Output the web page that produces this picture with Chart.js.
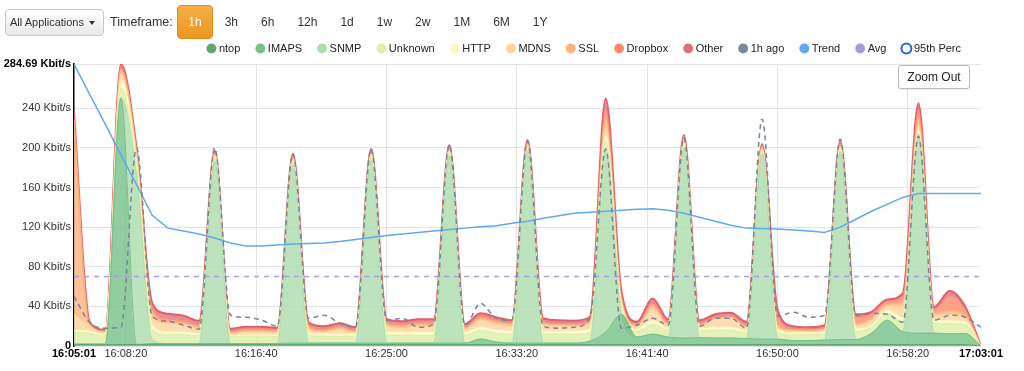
<!DOCTYPE html>
<html>
<head>
<meta charset="utf-8">
<title>Traffic</title>
<script src="https://cdn.jsdelivr.net/npm/chart.js@4.4.1/dist/chart.umd.min.js"></script>
<style>
  html, body { margin: 0; padding: 0; background: #fff; }
  body { width: 1024px; height: 371px; overflow: hidden; font-family: "Liberation Sans", Arial, sans-serif; color: #333; }
  #wrap { position: relative; width: 1024px; height: 371px; }
  #wrap canvas { position: absolute; left: 0; top: 0; }

  .toolbar { position: absolute; left: 5px; top: 6px; height: 32px; display: flex; align-items: center; z-index: 2; }
  .app-btn {
    height: 25px; line-height: 25px; padding: 0 8px 0 4px; font-size: 11px; color: #333;
    border: 1px solid #c8c8c8; border-radius: 4px;
    background: linear-gradient(#ffffff, #e8e8e8);
  }
  .caret { display: inline-block; width: 0; height: 0; margin-left: 2px; vertical-align: middle;
    border-top: 4px solid #333; border-left: 3px solid transparent; border-right: 3px solid transparent; }
  .tf-label { font-size: 12.5px; margin: 0 4px 0 6px; color: #333; }
  .tf-btn { height: 32px; line-height: 32px; padding: 0 10.5px; font-size: 12px; color: #333; border: 1px solid transparent; border-radius: 4px; }
  .tf-btn.active { color: #fff; background: linear-gradient(#f4b04a, #ec961f); border-color: #df8d1d; }

  .zoom-btn {
    position: absolute; left: 898px; top: 65px; width: 70px; height: 22px; line-height: 22px;
    text-align: center; font-size: 12px; color: #222; background: #fff;
    border: 1px solid #bbb; border-radius: 3px; box-shadow: 0 1px 1px rgba(0,0,0,0.08); z-index: 2;
  }
</style>
</head>
<body>
<div id="wrap">
  <canvas id="trafficChart"></canvas>
  <div class="toolbar">
    <div class="app-btn">All Applications <span class="caret"></span></div>
    <span class="tf-label">Timeframe:</span>
    <div class="tf-btn active">1h</div>
    <div class="tf-btn">3h</div>
    <div class="tf-btn">6h</div>
    <div class="tf-btn">12h</div>
    <div class="tf-btn">1d</div>
    <div class="tf-btn">1w</div>
    <div class="tf-btn">2w</div>
    <div class="tf-btn">1M</div>
    <div class="tf-btn">6M</div>
    <div class="tf-btn">1Y</div>
  </div>
  <div class="zoom-btn">Zoom Out</div>
</div>

<script>
// ---- Data (Kbit/s, one sample per minute) ----
const times = [
  "16:05:01", "16:06:01", "16:07:01", "16:08:01", "16:09:01", "16:10:01", "16:11:01", "16:12:01", "16:13:01", "16:14:01",
  "16:15:01", "16:16:01", "16:17:01", "16:18:01", "16:19:01", "16:20:01", "16:21:01", "16:22:01", "16:23:01", "16:24:01",
  "16:25:01", "16:26:01", "16:27:01", "16:28:01", "16:29:01", "16:30:01", "16:31:01", "16:32:01", "16:33:01", "16:34:01",
  "16:35:01", "16:36:01", "16:37:01", "16:38:01", "16:39:01", "16:40:01", "16:41:01", "16:42:01", "16:43:01", "16:44:01",
  "16:45:01", "16:46:01", "16:47:01", "16:48:01", "16:49:01", "16:50:01", "16:51:01", "16:52:01", "16:53:01", "16:54:01",
  "16:55:01", "16:56:01", "16:57:01", "16:58:01", "16:59:01", "17:00:01", "17:01:01", "17:02:01", "17:03:01"
];

const ntop = [
  1.5, 1.5, 1.5, 1.5, 1.5, 1.5, 1.5, 1.5, 1.5, 1.5,
  1.5, 1.5, 1.5, 1.5, 1.5, 1.5, 1.5, 1.5, 1.5, 1.5,
  1.5, 1.5, 1.5, 1.5, 1.5, 1.5, 1.5, 1.5, 1.5, 1.5,
  1.5, 1.5, 1.5, 1.5, 1.5, 1.5, 1.5, 1.5, 1.5, 1.5,
  1.5, 1.5, 1.5, 1.5, 1.5, 1.5, 1.5, 1.5, 1.5, 1.5,
  1.5, 1.5, 1.5, 1.5, 1.5, 1.5, 1.5, 1.5, 0
];
const imaps = [
  0.5, 0.5, 0.5, 249, 0, 1, 1, 1, 1, 1,
  1, 1, 1, 1, 1.5, 1.5, 1.5, 1.5, 1.5, 1.5,
  1.5, 1.5, 1.5, 1.5, 1.5, 1.5, 5.5, 2.5, 1.5, 1.5,
  1.5, 1.5, 1.5, 3.5, 12.5, 30.5, 7.5, 10.5, 7.5, 6.5,
  7, 6.5, 6.5, 6, 5.5, 5.5, 4, 4, 4.5, 5,
  5, 11.5, 24.5, 13, 11.5, 11.5, 11, 11, 0
];
const snmp = [
  0, 0, 0, 0, 170, 4, 0, 0, 0, 184,
  0, 0, 0, 0, 180, 0, 0, 0, 0, 185,
  0, 0, 0, 0, 189, 0, 0, 0, 0, 194,
  0, 0, 0, 0, 184, 0, 0, 0, 0, 192,
  0, 0, 0, 0, 187, 0, 0, 0, 0, 189,
  0, 0, 0, 0, 197, 0, 0, 0, 0
];
const unknown = [
  12, 11, 8, 10, 10, 10, 9, 9, 8, 3,
  7, 7, 7, 7, 3, 8, 7, 7, 7, 3,
  8, 8, 8, 8, 3, 8, 9, 9, 9, 3,
  9, 9, 9, 9, 9, 8, 6, 10, 7, 3,
  7, 8, 8, 6, 3, 7, 6, 6, 6.5, 3,
  8, 6, 7, 10, 5, 10, 10, 9, 0
];
const http = [
  2, 2, 1.5, 8, 5, 5, 3, 3, 2, 1,
  1, 1.5, 1.5, 1.5, 1, 2, 2, 2, 2, 1,
  3, 3, 3, 3, 1, 2.5, 3, 3, 3, 1,
  3, 3, 3, 3, 5, 3, 2, 4, 2, 1.5,
  2, 3, 3, 2, 1, 2, 2, 2, 2, 1,
  3, 2, 3, 4, 3, 3, 3, 3, 0
];
const mdns = [
  16, 5, 2, 6, 6, 8, 8, 7, 5, 2,
  2, 3, 3, 2.5, 2, 4, 2, 5, 1.5, 2,
  6, 4, 6, 6, 2, 3, 7, 6, 5, 2,
  6, 5, 4.5, 5.5, 8, 3, 3, 11, 3, 2.5,
  2.5, 8, 9, 3, 1.5, 2, 1.5, 1, 1.5, 2,
  3, 5, 4, 12, 5, 5, 6, 4, 0
];
const ssl = [
  195, 1.5, 1, 4, 3, 5, 2, 2, 2, 1,
  1, 1.5, 1.5, 1.5, 1, 2, 1.5, 1.5, 1, 1,
  2, 2, 2, 2, 1, 1.5, 2, 2, 2, 1,
  2, 1.5, 1.5, 2, 9, 3, 1, 4, 1, 1.5,
  1.5, 1, 1, 1, 1, 3, 1, 1, 1, 1,
  2, 2, 2, 4, 6, 2, 4, 2, 0
];
const dropbox = [
  3, 1.5, 1, 3, 2.5, 4, 3, 2, 2, 1.5,
  1.5, 1.5, 1.5, 1.5, 1.5, 2, 1.5, 1.5, 1.5, 1.5,
  2, 2, 2, 2, 1.5, 1.5, 2, 2, 1.5, 1.5,
  2, 1.5, 1.5, 2, 10, 2, 1.5, 2, 2, 2,
  1.5, 1, 1.5, 2, 1.5, 10, 1.5, 1.5, 1.5, 2,
  6, 4, 3, 5, 8, 3.5, 15, 6, 0
];
const other = [
  5, 1.5, 1, 3.19, 2, 5, 5, 5, 4, 2,
  2.5, 2.5, 2.5, 2, 2.5, 3, 3, 3, 3, 2.5,
  3, 3, 3, 3, 2.5, 2.5, 3, 3, 2.5, 2.5,
  3, 3, 3, 3, 11, 5, 2, 5, 3, 2.5,
  3, 3, 3, 3, 2, 5, 2.5, 2, 2.5, 2.5,
  3.5, 2.5, 2, 3.5, 8, 3, 5, 3, 0
];
const hourAgo = [
  50, 24, 18, 19, 200, 30, 25, 21, 17, 200,
  31, 29, 26, 20, 194, 28, 31, 23, 19, 199,
  26, 28, 19, 22, 203, 21, 43, 28, 26, 207,
  20, 18, 19, 29, 199, 18, 21, 28, 21, 210,
  20, 28, 28, 18, 229, 30, 34, 29, 31, 209,
  31, 33, 32, 24, 212, 26, 31, 29, 19
];
const trend = [
  284.69, 254, 224, 193, 163, 132, 119, 116, 113, 109,
  104, 101, 101, 102, 103, 103.5, 104, 105.5, 107.5, 109.5,
  111.5, 113, 114.5, 116, 117.5, 119, 120.5, 121.5, 124, 126,
  129, 131.5, 134, 135, 136, 137, 138, 138.5, 137, 134,
  130, 126, 122, 119, 118.5, 118, 117, 116, 114.5, 120,
  128, 136, 143, 150, 154, 154, 154, 154, 154
];
const avgValue = 70.2;

const xTicks = ["16:05:01", "16:08:20", "16:16:40", "16:25:00", "16:33:20", "16:41:40", "16:50:00", "16:58:20", "17:03:01"];
const yTicks = [0, 40, 80, 120, 160, 200, 240, 284.69];
const yTickLabels = ["0", "40 Kbit/s", "80 Kbit/s", "120 Kbit/s", "160 Kbit/s", "200 Kbit/s", "240 Kbit/s", "284.69 Kbit/s"];

const appNames = ["ntop", "IMAPS", "SNMP", "Unknown", "HTTP", "MDNS", "SSL", "Dropbox", "Other"];
const appSeries = [ntop, imaps, snmp, unknown, http, mdns, ssl, dropbox, other];
const appColors = ["#5aa96e", "#76c086", "#addcad", "#dcefa7", "#fdf7c2", "#fdd49c", "#fdb27c", "#fb8b6c", "#e06f7c"];

// ---- Helpers ----
function toSec(t) {
  const p = t.split(":").map(Number);
  return p[0] * 3600 + p[1] * 60 + p[2];
}

function withAlpha(hex, a) {
  const n = parseInt(hex.slice(1), 16);
  return `rgba(${(n >> 16) & 255},${(n >> 8) & 255},${n & 255},${a})`;
}

const secs = times.map(toSec);
const asPoints = (arr) => arr.map((v, i) => ({ x: secs[i], y: v }));

// ---- Datasets ----
const areaSets = appNames.map((name, k) => ({
  label: name,
  data: asPoints(appSeries[k]),
  stack: "apps",
  order: 2,
  fill: k === 0 ? "origin" : "-1",
  backgroundColor: withAlpha(appColors[k], 0.8),
  borderColor: k === 8 ? "#e0606c" : appColors[k],
  borderWidth: k === 8 ? 2 : 1,
  pointRadius: 0,
  cubicInterpolationMode: "monotone",
  legendColor: appColors[k]
}));

const lineSets = [
  {
    label: "1h ago",
    data: asPoints(hourAgo),
    stack: "ago",
    order: 1,
    fill: false,
    borderColor: "#76869a",
    borderWidth: 1.5,
    borderDash: [5, 4],
    pointRadius: 0,
    cubicInterpolationMode: "monotone",
    legendColor: "#7a8898"
  },
  {
    label: "Trend",
    data: asPoints(trend),
    stack: "trend",
    order: 1,
    fill: false,
    borderColor: "#5eaaf0",
    borderWidth: 1.5,
    pointRadius: 0,
    tension: 0,
    legendColor: "#5eaaf0"
  },
  {
    label: "Avg",
    data: [
      { x: secs[0], y: avgValue },
      { x: secs[secs.length - 1], y: avgValue }
    ],
    stack: "avg",
    order: 1,
    fill: false,
    borderColor: "#aa9ddc",
    borderWidth: 1.5,
    borderDash: [5, 5],
    pointRadius: 0,
    legendColor: "#a998da"
  },
  {
    label: "95th Perc",
    data: [],
    stack: "p95",
    order: 1,
    fill: false,
    borderColor: "#2a5fe6",
    pointRadius: 0,
    legendColor: "#2a5fe6",
    legendHollow: true
  }
];

// ---- Legend ends just short of the plot's right edge ----
const legendToPlot = {
  id: "legendToPlot",
  afterLayout(chart) {
    if (chart.legend) chart.legend.right = chart.chartArea.right - 2;
  }
};

Chart.defaults.font.family = "'Liberation Sans', Arial, sans-serif";
Chart.defaults.color = "#333";

const lastX = xTicks.length - 1;
const lastY = yTicks.length - 1;

new Chart(document.getElementById("trafficChart"), {
  type: "line",
  data: { datasets: areaSets.concat(lineSets) },
  options: {
    responsive: true,
    maintainAspectRatio: false,
    animation: false,
    layout: { padding: { top: 25, right: 43, bottom: 0, left: 0 } },
    plugins: {
      tooltip: { enabled: false },
      legend: {
        position: "top",
        align: "end",
        labels: {
          usePointStyle: true,
          boxWidth: 4,
          boxHeight: 7,
          padding: 18,
          color: "#222",
          font: { size: 11 },
          sort: (a, b) => a.datasetIndex - b.datasetIndex,
          generateLabels(chart) {
            return chart.data.datasets.map((ds, i) => ({
              text: ds.label,
              datasetIndex: i,
              pointStyle: "circle",
              fillStyle: ds.legendHollow ? "#ffffff" : ds.legendColor,
              strokeStyle: ds.legendColor,
              lineWidth: ds.legendHollow ? 2 : 0,
              lineDash: [],
              hidden: false,
              fontColor: "#222"
            }));
          }
        }
      }
    },
    scales: {
      x: {
        type: "linear",
        min: secs[0],
        max: secs[secs.length - 1],
        afterBuildTicks: (scale) => {
          scale.ticks = xTicks.map((t) => ({ value: toSec(t) }));
        },
        afterFit: (scale) => {
          scale.height = 25;
        },
        ticks: {
          autoSkip: false,
          maxRotation: 0,
          padding: 1,
          callback: (v, i) => xTicks[i],
          color: (ctx) => (ctx.index === 0 || ctx.index === lastX ? "#000" : "#333"),
          font: (ctx) => ({ size: 11, weight: ctx.index === 0 || ctx.index === lastX ? "bold" : "normal" })
        },
        grid: {
          drawTicks: false,
          color: (ctx) => (ctx.index === 0 || ctx.index === lastX ? "rgba(0,0,0,0)" : "#e4e4e4")
        },
        border: { display: false }
      },
      y: {
        type: "linear",
        stacked: true,
        min: 0,
        max: 284.69,
        afterBuildTicks: (scale) => {
          scale.ticks = yTicks.map((v) => ({ value: v }));
        },
        afterFit: (scale) => {
          scale.width = 74;
        },
        ticks: {
          padding: 3,
          callback: (v, i) => yTickLabels[i],
          color: (ctx) => (ctx.index === 0 || ctx.index === lastY ? "#000" : "#333"),
          font: (ctx) => ({ size: 11, weight: ctx.index === 0 || ctx.index === lastY ? "bold" : "normal" })
        },
        grid: { drawTicks: false, color: "#e4e4e4" },
        border: { display: true, color: "#000", width: 1.5 }
      }
    }
  },
  plugins: [legendToPlot]
});
</script>
</body>
</html>
